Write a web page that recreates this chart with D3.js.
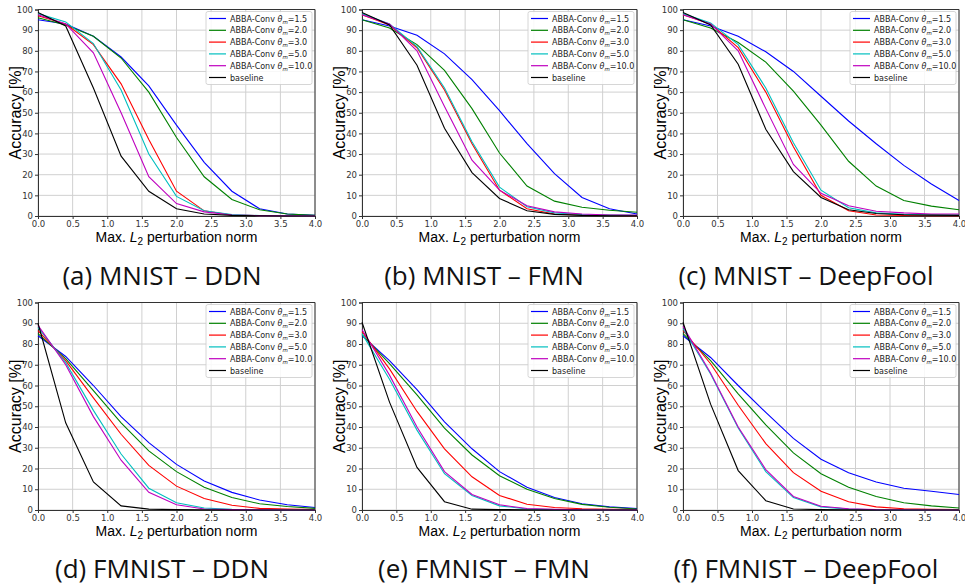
<!DOCTYPE html>
<html>
<head>
<meta charset="utf-8">
<script src="https://cdn.jsdelivr.net/npm/d3@7"></script>
<style>
  body { margin: 0; background: #fff; }
  svg { display: block; }
</style>
</head>
<body>
<svg id="chart" width="965" height="588"></svg>
<script>
// perturbation budgets evaluated (x axis)
const norms = [0, 0.4, 0.8, 1.2, 1.6, 2.0, 2.4, 2.8, 3.2, 3.6, 4.0];
const thetas = ["1.5", "2.0", "3.0", "5.0", "10.0"];
const xTicks = [0, 0.5, 1.0, 1.5, 2.0, 2.5, 3.0, 3.5, 4.0];
const yTicks = [0, 10, 20, 30, 40, 50, 60, 70, 80, 90, 100];

// accuracy [%] per series: theta 1.5, 2.0, 3.0, 5.0, 10.0, baseline
const mnistDdn = [
  [95, 93, 87, 77, 63, 44, 26, 12, 3.5, 1, 0.3],
  [96, 92.5, 87, 76.5, 60, 38, 19, 8, 3, 1, 0.3],
  [97, 93, 83, 64, 37, 12, 2.5, 0.5, 0.2, 0.1, 0],
  [98, 94, 83.5, 61, 30, 9.5, 2.5, 0.7, 0.2, 0.1, 0],
  [97.5, 93, 79, 50, 19, 6, 2, 0.5, 0.2, 0.1, 0],
  [98.5, 92, 62, 29, 12, 3.5, 1, 0.3, 0.1, 0, 0]
];
const mnistFmn = [
  [95, 92, 87.5, 78.5, 66, 51, 35, 20.5, 9, 3.5, 1],
  [95, 91, 83, 70.5, 52, 30.5, 14.5, 7.2, 4.2, 2.8, 1.8],
  [97.5, 92.5, 81.5, 61, 35, 12.5, 3.5, 1, 0.5, 0.3, 0.2],
  [98, 93, 82, 62, 36, 14, 4.5, 1.5, 0.7, 0.4, 0.3],
  [97.5, 93, 80, 53, 27, 12.5, 5, 2, 1, 0.5, 0.4],
  [98.5, 92.5, 73, 42.5, 21, 8.5, 2.5, 0.8, 0.3, 0.1, 0.1]
];
const mnistDeepFool = [
  [95, 92, 87, 79.5, 70, 58, 46, 35, 24.5, 15.5, 7.5],
  [95, 91, 84, 74.5, 60.5, 44, 26.5, 14.5, 7.5, 4.8, 3],
  [97.5, 93, 81.5, 60, 33.5, 10, 2.5, 0.5, 0.3, 0.2, 0.2],
  [98, 93.5, 83, 62, 35.5, 12.5, 4, 1.5, 0.8, 0.5, 0.4],
  [97.5, 93, 80, 52, 25, 11, 5, 2.3, 1.5, 1, 1],
  [98.5, 92.5, 73.5, 42, 21.5, 9, 3, 1.2, 0.6, 0.4, 0.3]
];
const fmnistDdn = [
  [84, 74, 60, 45, 32.5, 22, 14, 8.5, 4.8, 2.5, 1.2],
  [85, 73, 57.5, 42, 28.5, 18.5, 11, 6, 3, 1.7, 0.8],
  [86.5, 72, 54, 36.5, 21.5, 11.5, 5.5, 2.3, 0.8, 0.4, 0.2],
  [88, 71, 48, 27, 10.5, 3.5, 1, 0.3, 0.1, 0, 0],
  [89, 70, 45, 24, 8.5, 2.5, 0.5, 0.2, 0.1, 0, 0],
  [90, 42, 13.5, 2, 0.4, 0.2, 0.1, 0, 0, 0, 0]
];
const fmnistFmn = [
  [84, 72, 58, 42.5, 29.5, 18.5, 11, 6, 3, 1.5, 0.7],
  [84.5, 70.5, 55.5, 39.5, 26.5, 16.5, 10, 5.5, 2.7, 1.3, 0.5],
  [86, 68, 47.5, 29.5, 16, 7, 2.8, 1.2, 0.6, 0.3, 0.2],
  [85, 63, 38.5, 17.5, 7, 2, 0.5, 0.2, 0.1, 0, 0],
  [87, 65, 40, 18.5, 7.5, 2.5, 0.7, 0.3, 0.1, 0, 0],
  [90.5, 52, 20.5, 4, 0.4, 0.2, 0.1, 0, 0, 0, 0]
];
const fmnistDeepFool = [
  [84, 73.5, 60, 47, 34.5, 24.5, 18, 13.5, 10.5, 9, 7.5],
  [85, 72, 56, 41, 27.5, 17.5, 11, 6.5, 3.5, 2, 1],
  [86.5, 70.5, 50.5, 32, 18, 9, 4, 1.5, 0.6, 0.3, 0.2],
  [87.5, 65.5, 39.5, 18.5, 6, 1.5, 0.4, 0.1, 0, 0, 0],
  [88.5, 66, 40, 19.5, 6.5, 1.8, 0.6, 0.2, 0.1, 0, 0],
  [90.5, 51, 19, 4.5, 0.5, 0.2, 0.1, 0, 0, 0, 0]
];
const captions = ["(a) MNIST – DDN", "(b) MNIST – FMN", "(c) MNIST – DeepFool",
                  "(d) FMNIST – DDN", "(e) FMNIST – FMN", "(f) FMNIST – DeepFool"];
const panelData = [mnistDdn, mnistFmn, mnistDeepFool, fmnistDdn, fmnistFmn, fmnistDeepFool];

const colors = ["#0000ff", "#008000", "#ff0000", "#00bfbf", "#bf00bf", "#000000"];

// plot-area boxes for the 3x2 grid
const colLeft = [38, 362, 683];
const colRight = [315, 637, 959];
const rowTop = [9.5, 302.5];
const rowBottom = [216, 510];
const captionX = [162, 484, 806];
const captionY = [285, 578];

const svg = d3.select("#chart");

panelData.forEach((series, i) => {
  const col = i % 3, row = Math.floor(i / 3);
  const x = d3.scaleLinear().domain([0, 4]).range([colLeft[col], colRight[col]]);
  const y = d3.scaleLinear().domain([0, 100]).range([rowBottom[row], rowTop[row]]);
  const g = svg.append("g");

  // grid
  g.append("g").selectAll("line").data(xTicks).enter().append("line")
    .attr("x1", d => x(d)).attr("x2", d => x(d))
    .attr("y1", y(0)).attr("y2", y(100))
    .attr("stroke", "#d0d0d0").attr("stroke-width", 1);
  g.append("g").selectAll("line").data(yTicks).enter().append("line")
    .attr("x1", x(0)).attr("x2", x(4))
    .attr("y1", d => y(d)).attr("y2", d => y(d))
    .attr("stroke", "#d0d0d0").attr("stroke-width", 1);

  // axes
  const xAxis = g.append("g").attr("transform", `translate(0,${y(0)})`)
    .call(d3.axisBottom(x).tickValues(xTicks).tickFormat(d3.format(".1f")).tickSize(3).tickPadding(1.5));
  const yAxis = g.append("g").attr("transform", `translate(${x(0)},0)`)
    .call(d3.axisLeft(y).tickValues(yTicks).tickSize(3).tickPadding(2));
  [xAxis, yAxis].forEach(a => {
    a.select(".domain").attr("stroke", "#333");
    a.selectAll(".tick line").attr("stroke", "#333");
    a.selectAll("text").attr("fill", "#333")
      .style("font-family", "DejaVu Sans").style("font-size", "8.5px");
  });
  g.append("line").attr("x1", x(0)).attr("x2", x(4)).attr("y1", y(100)).attr("y2", y(100)).attr("stroke", "#333");
  g.append("line").attr("x1", x(4)).attr("x2", x(4)).attr("y1", y(0)).attr("y2", y(100)).attr("stroke", "#333");

  // lines
  const line = d3.line().x((d, j) => x(norms[j])).y(d => y(d));
  g.append("g").selectAll("path").data(series).enter().append("path")
    .attr("d", line)
    .attr("fill", "none")
    .attr("stroke", (d, k) => colors[k])
    .attr("stroke-width", 1.1);

  // axis titles
  g.append("text")
    .attr("x", (x(0) + x(4)) / 2).attr("y", y(0) + 26)
    .attr("text-anchor", "middle")
    .style("font-family", "Liberation Sans").style("font-size", "14px")
    .call(t => {
      t.append("tspan").text("Max. ");
      t.append("tspan").attr("font-style", "italic").text("L");
      t.append("tspan").attr("font-size", "10px").attr("dy", 3).text("2");
      t.append("tspan").attr("dy", -3).text(" perturbation norm");
    });
  g.append("text")
    .attr("transform", `translate(${x(0) - 17},${(y(0) + y(100)) / 2}) rotate(-90)`)
    .attr("text-anchor", "middle")
    .style("font-family", "Liberation Sans").style("font-size", "16px")
    .text("Accuracy [%]");

  // legend
  const lw = 106, lh = 73;
  const lx = x(4) - 3 - lw, ly = y(100) + 2;
  const leg = g.append("g").attr("transform", `translate(${lx},${ly})`);
  leg.append("rect").attr("width", lw).attr("height", lh).attr("rx", 2)
    .attr("fill", "#fff").attr("fill-opacity", 0.85)
    .attr("stroke", "#ccc").attr("stroke-width", 0.8);
  const names = thetas.map(t => t).concat(["baseline"]);
  names.forEach((n, k) => {
    const yy = 7 + k * 11.8;
    leg.append("line").attr("x1", 3).attr("x2", 20).attr("y1", yy).attr("y2", yy)
      .attr("stroke", colors[k]).attr("stroke-width", 1.2);
    const t = leg.append("text").attr("x", 24).attr("y", yy + 3)
      .style("font-family", "DejaVu Sans").style("font-size", "8px").attr("fill", "#222");
    if (k < thetas.length) {
      t.append("tspan").text("ABBA-Conv ");
      t.append("tspan").attr("font-style", "italic").text("θ");
      t.append("tspan").attr("font-style", "italic").attr("font-size", "5.5px").attr("dy", 2).text("m");
      t.append("tspan").attr("dy", -2).text("=" + n);
    } else {
      t.text(n);
    }
  });

  // caption
  svg.append("text")
    .attr("x", captionX[col]).attr("y", captionY[row])
    .attr("text-anchor", "middle")
    .style("font-family", "Open Sans").style("font-size", "26px")
    .attr("fill", "#111")
    .text(captions[i]);
});
</script>
</body>
</html>
